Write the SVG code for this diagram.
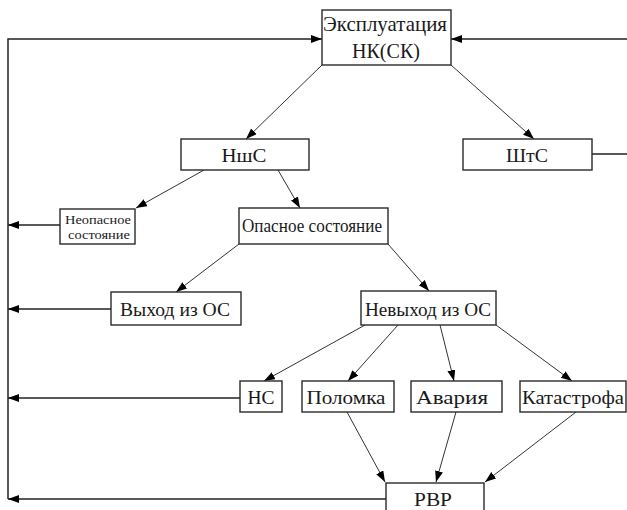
<svg xmlns="http://www.w3.org/2000/svg" width="627" height="510" viewBox="0 0 627 510">
<style>
.box{fill:#fff;stroke:#2a2a2a;stroke-width:1.4}
.t{font-family:"Liberation Serif","Times New Roman",serif;fill:#1a1a1a;text-anchor:middle}
.c{fill:none;stroke:#333;stroke-width:1;marker-end:url(#ah)}
.fa{fill:none;stroke:#222;stroke-width:1.5;marker-end:url(#ah)}
</style>
<defs>
<marker id="ah" markerUnits="userSpaceOnUse" markerWidth="12" markerHeight="10" refX="11" refY="4" orient="auto">
<path d="M0,0 L11,4 L0,8 Z" fill="#000"/>
</marker>
</defs>
<rect width="627" height="510" fill="#fff"/>
<g id="connectors">
<path class="c" d="M322,65 L246,139"/>
<path class="c" d="M451,65 L534,139"/>
<path class="c" d="M204,170 L136,208"/>
<path class="c" d="M278,170 L300,208"/>
<path class="c" d="M239,244 L176,292"/>
<path class="c" d="M388,244 L429,291"/>
<path class="c" d="M365,325 L264,381"/>
<path class="c" d="M398,325 L348,381"/>
<path class="c" d="M440,325 L454,381"/>
<path class="c" d="M496,325 L572,381"/>
<path class="c" d="M347,412 L385,482"/>
<path class="c" d="M456,412 L436,482"/>
<path class="c" d="M576,412 L485,482"/>
<path class="fa" d="M60,225 H8"/>
<path class="fa" d="M111,309 H8"/>
<path class="fa" d="M240,398 H8"/>
<path class="fa" d="M386,499 H8"/>
<path class="fa" d="M8,499 V39 H322"/>
<path class="fa" d="M592,154 H634 V39 H451"/>
</g>
<g id="n-exploitation"><rect class="box" x="322" y="10" width="129" height="55"/>
<text class="t" x="385" y="31" font-size="21" textLength="124" lengthAdjust="spacingAndGlyphs">Эксплуатация</text>
<text class="t" x="386" y="58" font-size="21" textLength="68" lengthAdjust="spacingAndGlyphs">НК(СК)</text></g>
<g id="n-nshs"><rect class="box" x="181" y="139" width="128" height="31"/>
<text class="t" x="244" y="162" font-size="19" textLength="45" lengthAdjust="spacingAndGlyphs">НшС</text></g>
<g id="n-shts"><rect class="box" x="463" y="139" width="129" height="31"/>
<text class="t" x="527" y="162" font-size="19" textLength="42" lengthAdjust="spacingAndGlyphs">ШтС</text></g>
<g id="n-neopasnoe"><rect class="box" x="60" y="209" width="75" height="35"/>
<text class="t" x="98" y="224" font-size="13" textLength="66" lengthAdjust="spacingAndGlyphs">Неопасное</text>
<text class="t" x="99" y="239" font-size="13" textLength="62" lengthAdjust="spacingAndGlyphs">состояние</text></g>
<g id="n-opasnoe"><rect class="box" x="239" y="208" width="149" height="36"/>
<text class="t" x="312" y="232" font-size="18.5" textLength="140" lengthAdjust="spacingAndGlyphs">Опасное состояние</text></g>
<g id="n-vyhod"><rect class="box" x="111" y="292" width="130" height="33"/>
<text class="t" x="175" y="316" font-size="19.5" textLength="110" lengthAdjust="spacingAndGlyphs">Выход из ОС</text></g>
<g id="n-nevyhod"><rect class="box" x="361" y="291" width="135" height="34"/>
<text class="t" x="428" y="316" font-size="19.5" textLength="126" lengthAdjust="spacingAndGlyphs">Невыход из ОС</text></g>
<g id="n-ns"><rect class="box" x="240" y="381" width="42" height="31"/>
<text class="t" x="261" y="404" font-size="19.5" textLength="27" lengthAdjust="spacingAndGlyphs">НС</text></g>
<g id="n-polomka"><rect class="box" x="302" y="381" width="92" height="31"/>
<text class="t" x="346" y="404" font-size="19.5" textLength="79" lengthAdjust="spacingAndGlyphs">Поломка</text></g>
<g id="n-avaria"><rect class="box" x="411" y="381" width="91" height="31"/>
<text class="t" x="452" y="404" font-size="19.5" textLength="72" lengthAdjust="spacingAndGlyphs">Авария</text></g>
<g id="n-katastrofa"><rect class="box" x="520" y="381" width="106" height="31"/>
<text class="t" x="573" y="404" font-size="19.5" textLength="102" lengthAdjust="spacingAndGlyphs">Катастрофа</text></g>
<g id="n-rvr"><rect class="box" x="386" y="483" width="98" height="40"/>
<text class="t" x="433" y="506" font-size="19.5" textLength="38" lengthAdjust="spacingAndGlyphs">РВР</text></g>
</svg>
